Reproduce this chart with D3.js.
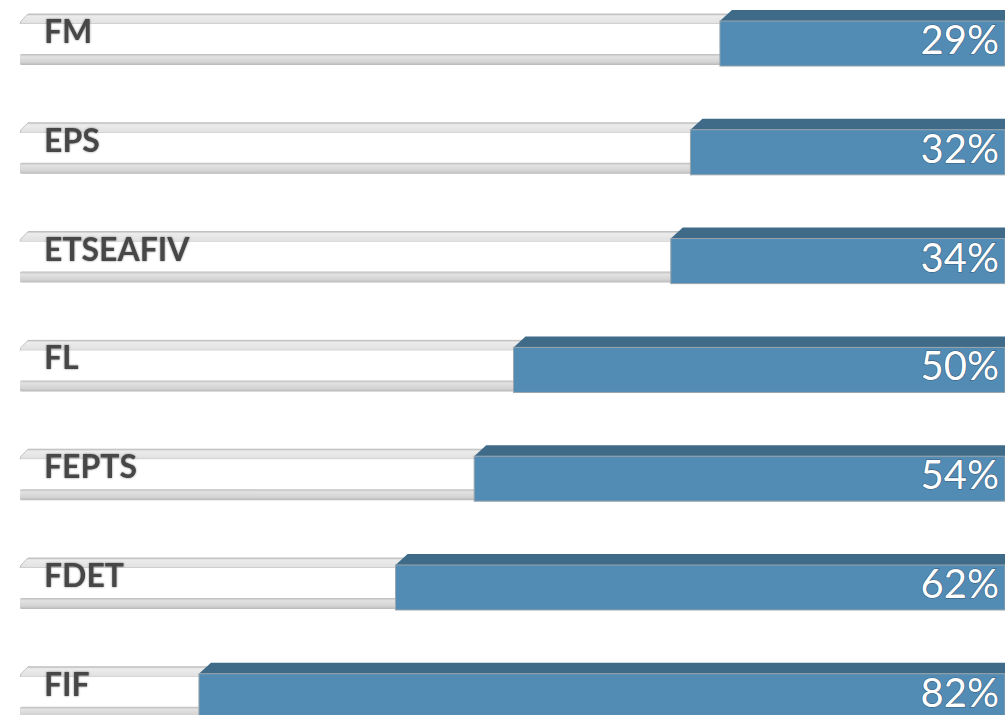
<!DOCTYPE html>
<html>
<head>
<meta charset="utf-8">
<script src="https://cdn.jsdelivr.net/npm/d3@7"></script>
<style>
html,body{margin:0;padding:0;background:#fff;}
svg{display:block;}
</style>
</head>
<body>
<svg id="chart" width="1005" height="715"></svg>
<script>
const categories = ["FM", "EPS", "ETSEAFIV", "FL", "FEPTS", "FDET", "FIF"];
const values = [29, 32, 34, 50, 54, 62, 82];
const valueLabels = ["29%", "32%", "34%", "50%", "54%", "62%", "82%"];

const W = 1005, H = 715;
const svg = d3.select("#chart");

const defs = svg.append("defs");
const gBot = defs.append("linearGradient").attr("id","gBot").attr("x1",0).attr("y1",0).attr("x2",0).attr("y2",1);
gBot.append("stop").attr("offset","0%").attr("stop-color","#bdbdbd");
gBot.append("stop").attr("offset","25%").attr("stop-color","#e2e2e2");
gBot.append("stop").attr("offset","75%").attr("stop-color","#d2d2d2");
gBot.append("stop").attr("offset","100%").attr("stop-color","#b8b8b8");
const gTop = defs.append("linearGradient").attr("id","gTop").attr("x1",0).attr("y1",0).attr("x2",0).attr("y2",1);
gTop.append("stop").attr("offset","0%").attr("stop-color","#c4c4c4");
gTop.append("stop").attr("offset","20%").attr("stop-color","#ececec");
gTop.append("stop").attr("offset","100%").attr("stop-color","#e0e0e0");
const f = defs.append("filter").attr("id","shadow").attr("x","-10%").attr("y","-20%").attr("width","120%").attr("height","140%");
f.append("feGaussianBlur").attr("in","SourceAlpha").attr("stdDeviation",1.1).attr("result","b");
f.append("feOffset").attr("in","b").attr("dx",0.4).attr("dy",0.4).attr("result","o");
f.append("feComponentTransfer").attr("in","o").attr("result","o2").append("feFuncA").attr("type","linear").attr("slope",0.45);
const fm = f.append("feMerge");
fm.append("feMergeNode").attr("in","o2");
fm.append("feMergeNode").attr("in","SourceGraphic");

const y = d3.scaleBand()
  .domain(categories)
  .range([10, 10 + 6 * 108.8 + 56])
  .paddingInner(0.485)
  .paddingOuter(0);

const x = d3.scaleLinear().domain([0, 100]).range([W, 22]);

const trackLeft = x(100) - 2;
const bevel = 11;

const rows = svg.selectAll("g.row")
  .data(categories.map((c, i) => ({cat: c, val: values[i], lab: valueLabels[i]})))
  .join("g").attr("class","row")
  .attr("transform", d => `translate(0,${y(d.cat)})`);

// Track: top bevel
rows.append("path")
  .attr("d", () => {
    const t = 4, b = 14;
    return `M${trackLeft+8},${t} L${W},${t} L${W},${b} L${trackLeft},${b} L${trackLeft+1},${b-3} Z`;
  })
  .attr("fill","url(#gTop)")
  .attr("stroke","#b5b5b5").attr("stroke-width",0.8);

// Track: white face
rows.append("rect")
  .attr("x", trackLeft).attr("y", 14)
  .attr("width", W - trackLeft).attr("height", 30)
  .attr("fill","#ffffff");

// Track: bottom band
rows.append("rect")
  .attr("x", trackLeft).attr("y", 44)
  .attr("width", W - trackLeft).attr("height", 11)
  .attr("rx", 1.5)
  .attr("fill","url(#gBot)");

// Labels
rows.append("text")
  .attr("x", 44).attr("y", 33)
  .attr("font-family","Lato, 'Liberation Sans', sans-serif")
  .attr("font-weight",700)
  .attr("font-size",32)
  .attr("fill","#474747")
  .attr("filter","url(#shadow)")
  .text(d => d.cat);

// Blue bar: top bevel
rows.append("path")
  .attr("d", d => {
    const x0 = x(d.val);
    return `M${x0+12},0 L${W},0 L${W},${bevel} L${x0},${bevel} Z`;
  })
  .attr("fill","#3f6b89");

// Blue bar: face
rows.append("rect")
  .attr("x", d => x(d.val)).attr("y", bevel)
  .attr("width", d => W - x(d.val))
  .attr("height", y.bandwidth() - bevel)
  .attr("fill","#528bb4")
  .attr("stroke","#9aa4ab").attr("stroke-width",1);

// Value labels
rows.append("text")
  .attr("x", 999).attr("y", 44)
  .attr("text-anchor","end")
  .attr("font-family","Lato, 'Open Sans', sans-serif")
  .attr("font-weight",400)
  .attr("font-size",40)
  .attr("fill","#ffffff")
  .attr("stroke","rgba(30,50,70,0.55)").attr("stroke-width",1.2)
  .attr("paint-order","stroke")
  .text(d => d.lab);
</script>
</body>
</html>
